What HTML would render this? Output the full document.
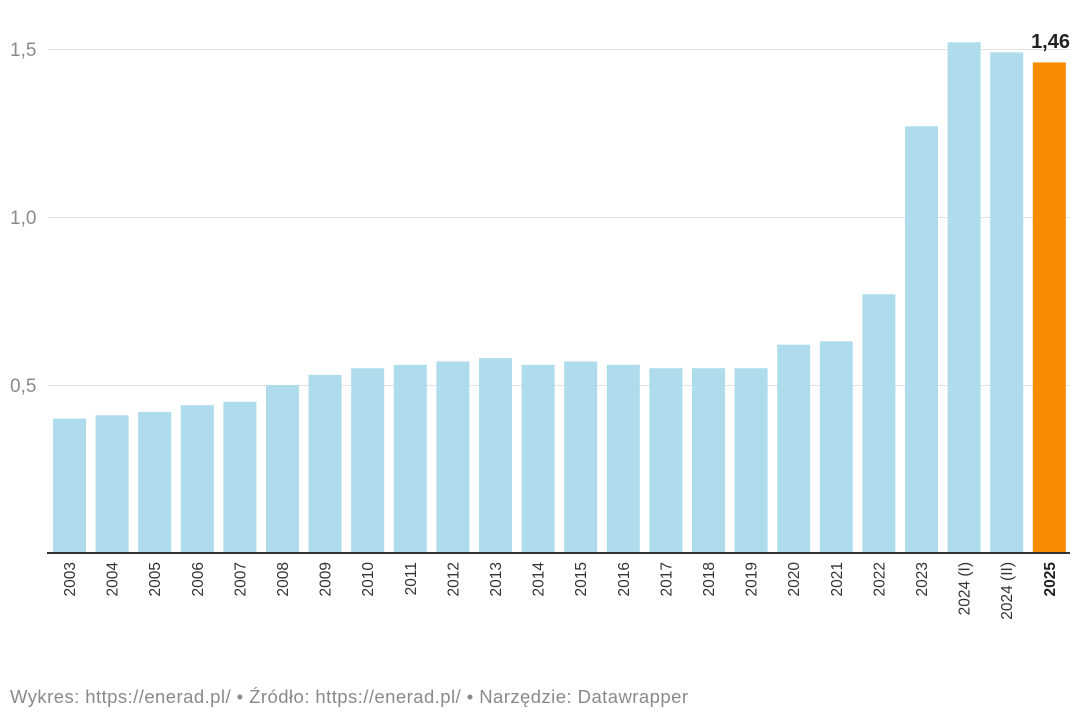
<!DOCTYPE html>
<html><head><meta charset="utf-8"><style>
html,body{margin:0;padding:0;background:#fff;}
svg{display:block;font-family:"Liberation Sans",sans-serif;}
</style></head><body>
<svg width="1080" height="719" xmlns="http://www.w3.org/2000/svg">
<g stroke="#e2e2e2" stroke-width="1">
<line x1="48" x2="1070" y1="49.5" y2="49.5"/>
<line x1="48" x2="1070" y1="217.5" y2="217.5"/>
<line x1="48" x2="1070" y1="385.5" y2="385.5"/>
</g>
<g fill="#8a8a8a" font-size="19">
<text x="10" y="56">1,5</text>
<text x="10" y="224">1,0</text>
<text x="10" y="392">0,5</text>
</g>
<g id="bars"></g>
<line x1="47" x2="1070" y1="553" y2="553" stroke="#333" stroke-width="2"/>
<text x="1070" y="48" text-anchor="end" font-size="20" font-weight="bold" fill="#222">1,46</text>
<g id="labels" font-size="15.5" fill="#333"></g>
<text x="10" y="703" font-size="18.5" fill="#8a8a8a" textLength="678" lengthAdjust="spacing">Wykres: https://enerad.pl/ • Źródło: https://enerad.pl/ • Narzędzie: Datawrapper</text>
<script>
var v=[0.40,0.41,0.42,0.44,0.45,0.50,0.53,0.55,0.56,0.57,0.58,0.56,0.57,0.56,0.55,0.55,0.55,0.62,0.63,0.77,1.27,1.52,1.49,1.46];
var l=[];for(var y=2003;y<=2023;y++)l.push(String(y));l.push("2024 (I)","2024 (II)","2025");
var b=document.getElementById("bars"),t=document.getElementById("labels"),ns="http://www.w3.org/2000/svg";
for(var i=0;i<24;i++){var x=53+i*42.6,h=v[i]*336;
var r=document.createElementNS(ns,"rect");r.setAttribute("x",x);r.setAttribute("width",33);r.setAttribute("y",553-h);r.setAttribute("height",h);r.setAttribute("fill",i==23?"#f78c00":"#aedcec");b.appendChild(r);
var tx=document.createElementNS(ns,"text");var cx=x+16.5+5.5;tx.setAttribute("transform","translate("+cx+",562) rotate(-90)");tx.setAttribute("text-anchor","end");if(i==23){tx.setAttribute("font-weight","bold");tx.setAttribute("fill","#222");}tx.textContent=l[i];t.appendChild(tx);}
</script>
</svg>
</body></html>
